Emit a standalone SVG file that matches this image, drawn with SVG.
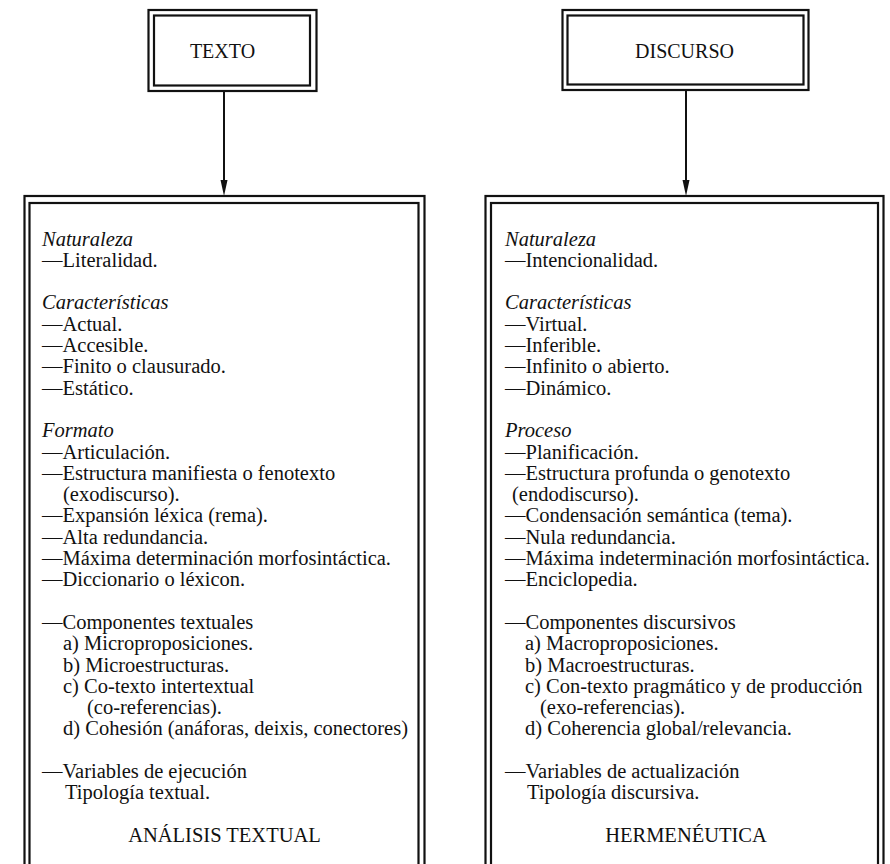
<svg xmlns="http://www.w3.org/2000/svg" width="890" height="864" viewBox="0 0 890 864">
<defs>
<style>
.bx{fill:none;stroke:#111;stroke-width:2.2}
.t{font-family:"Liberation Serif","Times New Roman",serif;font-size:20.5px;fill:#111}
.i{font-style:italic}
.c{text-anchor:middle}
.h{font-family:"Liberation Serif","Times New Roman",serif;font-size:20px;fill:#111;text-anchor:middle}
.ln{stroke:#111;stroke-width:2;fill:none}
</style>
<marker id="ah" markerUnits="userSpaceOnUse" markerWidth="10" markerHeight="18" refX="4" refY="16" orient="auto-start-reverse" viewBox="0 0 8 16">
<path d="M0.5,0 L7.5,0 L4,16 Z" fill="#111"/>
</marker>
</defs>
<rect width="890" height="864" fill="#fff"/>
<g id="node-texto">
<rect class="bx" x="148.5" y="10" width="168" height="81"/>
<rect class="bx" x="154" y="15.5" width="156" height="70"/>
<text class="h" x="222.5" y="58">TEXTO</text>
</g>
<g id="node-discurso">
<rect class="bx" x="562.5" y="10" width="246" height="80"/>
<rect class="bx" x="567.5" y="15.5" width="236" height="69"/>
<text class="h" x="684.5" y="58">DISCURSO</text>
</g>
<g id="connectors">
<line class="ln" x1="224" y1="91" x2="224" y2="180"/>
<path d="M220.5,180 L227.5,180 L224,196 Z" fill="#111"/>
<line class="ln" x1="686" y1="90" x2="686" y2="180"/>
<path d="M682.5,180 L689.5,180 L686,196 Z" fill="#111"/>
</g>
<g id="node-texto-detalle">
<rect class="bx" x="24.5" y="196" width="400" height="700"/>
<rect class="bx" x="29.5" y="203" width="389" height="700"/>
<g class="t">
<text class="i" x="42" y="245.5">Naturaleza</text>
<text x="42" y="266.8">—Literalidad.</text>
<text class="i" x="42" y="309.4">Características</text>
<text x="42" y="330.7">—Actual.</text>
<text x="42" y="352">—Accesible.</text>
<text x="42" y="373.3">—Finito o clausurado.</text>
<text x="42" y="394.6">—Estático.</text>
<text class="i" x="42" y="437.2">Formato</text>
<text x="42" y="458.5">—Articulación.</text>
<text x="42" y="479.8">—Estructura manifiesta o fenotexto</text>
<text x="63" y="501.1">(exodiscurso).</text>
<text x="42" y="522.4">—Expansión léxica (rema).</text>
<text x="42" y="543.7">—Alta redundancia.</text>
<text x="42" y="565">—Máxima determinación morfosintáctica.</text>
<text x="42" y="586.3">—Diccionario o léxicon.</text>
<text x="42" y="628.9">—Componentes textuales</text>
<text x="63" y="650.2">a) Microproposiciones.</text>
<text x="63" y="671.5">b) Microestructuras.</text>
<text x="63" y="692.8">c) Co-texto intertextual</text>
<text x="87" y="714.1">(co-referencias).</text>
<text x="63" y="735.4">d) Cohesión (anáforas, deixis, conectores)</text>
<text x="42" y="778">—Variables de ejecución</text>
<text x="65" y="799.3">Tipología textual.</text>
<text class="c" x="224.5" y="841.9">ANÁLISIS TEXTUAL</text>
</g>
</g>
<g id="node-discurso-detalle">
<rect class="bx" x="485.5" y="196" width="398" height="700"/>
<rect class="bx" x="491" y="203" width="387" height="700"/>
<g class="t">
<text class="i" x="505" y="245.5">Naturaleza</text>
<text x="505" y="266.8">—Intencionalidad.</text>
<text class="i" x="505" y="309.4">Características</text>
<text x="505" y="330.7">—Virtual.</text>
<text x="505" y="352">—Inferible.</text>
<text x="505" y="373.3">—Infinito o abierto.</text>
<text x="505" y="394.6">—Dinámico.</text>
<text class="i" x="505" y="437.2">Proceso</text>
<text x="505" y="458.5">—Planificación.</text>
<text x="505" y="479.8">—Estructura profunda o genotexto</text>
<text x="512" y="501.1">(endodiscurso).</text>
<text x="505" y="522.4">—Condensación semántica (tema).</text>
<text x="505" y="543.7">—Nula redundancia.</text>
<text x="505" y="565">—Máxima indeterminación morfosintáctica.</text>
<text x="505" y="586.3">—Enciclopedia.</text>
<text x="505" y="628.9">—Componentes discursivos</text>
<text x="525" y="650.2">a) Macroproposiciones.</text>
<text x="525" y="671.5">b) Macroestructuras.</text>
<text x="525" y="692.8">c) Con-texto pragmático y de producción</text>
<text x="540" y="714.1">(exo-referencias).</text>
<text x="525" y="735.4">d) Coherencia global/relevancia.</text>
<text x="505" y="778">—Variables de actualización</text>
<text x="527" y="799.3">Tipología discursiva.</text>
<text class="c" x="686" y="841.9">HERMENÉUTICA</text>
</g>
</g>
</svg>
